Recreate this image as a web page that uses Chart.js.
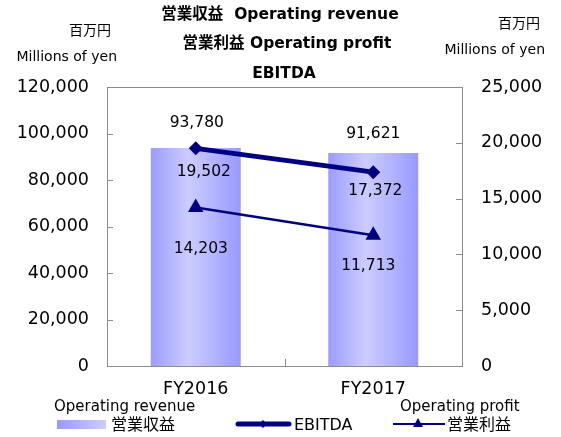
<!DOCTYPE html>
<html><head><meta charset="utf-8">
<script src="https://cdn.jsdelivr.net/npm/chart.js@4/dist/chart.umd.min.js"></script>
<style>html,body{margin:0;padding:0;background:#fff}#wrap{width:561px;height:437px}</style>
</head><body><div id="wrap"><canvas id="c" width="561" height="437"></canvas></div>
<script>
const categories = ['FY2016', 'FY2017'];
const revenue = [93780, 91621];
const ebitda = [19502, 17372];
const profit = [14203, 11713];
const leftTicks = [0, 20000, 40000, 60000, 80000, 100000, 120000];
const rightTicks = [0, 5000, 10000, 15000, 20000, 25000];
const titleLines = ['営業収益  Operating revenue', '営業利益 Operating profit', 'EBITDA'];

const FONT = '"DejaVu Sans", "Noto Sans CJK JP", sans-serif';
const NAVY = '#000080';
const fmt = v => v.toLocaleString('en-US');

// label offsets (style only)
const labelOffsets = [
  [[1, -25], [0, -19]],
  [[8, 24], [2, 19]],
  [[5, 41], [-5, 31]]
];

const BAR_FRAC = 0.507;

function barGradient(c) {
  const chart = c.chart;
  const xs = chart.scales.x;
  if (!chart.chartArea || !xs) return '#a5a5ff';
  const cx = xs.getPixelForValue(c.dataIndex);
  const w = xs.width / categories.length * BAR_FRAC;
  const g = chart.ctx.createLinearGradient(cx - w / 2, 0, cx + w / 2, 0);
  g.addColorStop(0, '#9c9cff');
  g.addColorStop(0.42, '#ccccff');
  g.addColorStop(1, '#9999ff');
  return g;
}

const deco = {
  id: 'deco',
  beforeDraw(chart) {
    const ctx = chart.ctx;
    ctx.save();
    ctx.fillStyle = '#fff';
    ctx.fillRect(0, 0, chart.width, chart.height);
    ctx.restore();
  },
  afterDatasetsDraw(chart) {
    const ctx = chart.ctx;
    const a = chart.chartArea;
    const yl = chart.scales.y, yr = chart.scales.y1, xs = chart.scales.x;
    ctx.save();
    // frame
    ctx.strokeStyle = '#8c8c8c';
    ctx.lineWidth = 1;
    ctx.strokeRect(Math.round(a.left) + 0.5, Math.round(a.top) + 0.5, Math.round(a.right - a.left), Math.round(a.bottom - a.top));
    // ticks
    ctx.beginPath();
    leftTicks.forEach(v => { const y = Math.round(yl.getPixelForValue(v)) + 0.5; ctx.moveTo(a.left, y); ctx.lineTo(a.left + 6, y); });
    rightTicks.forEach(v => { const y = Math.round(yr.getPixelForValue(v)) + 0.5; ctx.moveTo(a.right, y); ctx.lineTo(a.right - 6, y); });
    const mid = Math.round((xs.getPixelForValue(0) + xs.getPixelForValue(1)) / 2) + 0.5;
    ctx.moveTo(mid, a.bottom); ctx.lineTo(mid, a.bottom - 7);
    ctx.stroke();

    // data labels
    ctx.fillStyle = '#000';
    ctx.font = '15.5px ' + FONT;
    ctx.textAlign = 'center';
    ctx.textBaseline = 'middle';
    chart.data.datasets.forEach((ds, di) => {
      const meta = chart.getDatasetMeta(di);
      meta.data.forEach((el, i) => {
        const o = labelOffsets[di][i];
        ctx.fillText(fmt(ds.data[i]), el.x + o[0], el.y + o[1]);
      });
    });

    // title
    ctx.font = 'bold 15.5px ' + FONT;
    ctx.fillStyle = '#000';
    ctx.fillText(titleLines[0], 280, 15);
    ctx.fillText(titleLines[1], 287, 44);
    ctx.fillText(titleLines[2], 284, 74);

    // axis unit titles
    ctx.font = '14px ' + FONT;
    ctx.textAlign = 'right';
    ctx.fillText('百万円', 111, 31);
    ctx.fillText('Millions of yen', 117, 57);
    ctx.fillText('百万円', 540, 24);
    ctx.fillText('Millions of yen', 545, 50);

    // legend
    ctx.textAlign = 'left';
    ctx.font = '15px ' + FONT;
    ctx.fillText('Operating revenue', 54, 407);
    ctx.fillText('Operating profit', 400, 407);
    const sg = ctx.createLinearGradient(57, 0, 106, 0);
    sg.addColorStop(0, '#9999ff');
    sg.addColorStop(1, '#ccccff');
    ctx.fillStyle = sg;
    ctx.fillRect(57, 420, 49, 9);
    ctx.fillStyle = '#000';
    ctx.font = '16px ' + FONT;
    ctx.fillText('営業収益', 111, 426);
    ctx.fillText('EBITDA', 294, 426);
    ctx.fillText('営業利益', 447, 426);
    // EBITDA legend line
    ctx.strokeStyle = NAVY; ctx.fillStyle = NAVY;
    ctx.lineCap = 'round';
    ctx.lineWidth = 5;
    ctx.beginPath(); ctx.moveTo(238, 424); ctx.lineTo(289, 424); ctx.stroke();
    ctx.beginPath(); ctx.moveTo(263, 420); ctx.lineTo(267, 424); ctx.lineTo(263, 428); ctx.lineTo(259, 424); ctx.closePath(); ctx.fill();
    // profit legend line
    ctx.lineCap = 'butt';
    ctx.lineWidth = 2;
    ctx.beginPath(); ctx.moveTo(393, 424); ctx.lineTo(445, 424); ctx.stroke();
    ctx.beginPath(); ctx.moveTo(418, 418); ctx.lineTo(423, 427); ctx.lineTo(413, 427); ctx.closePath(); ctx.fill();
    ctx.restore();
  }
};

new Chart(document.getElementById('c'), {
  data: {
    labels: categories,
    datasets: [
      { type: 'bar', label: '営業収益', data: revenue, yAxisID: 'y', order: 3,
        backgroundColor: barGradient, borderWidth: 0,
        barPercentage: 1, categoryPercentage: BAR_FRAC },
      { type: 'line', label: 'EBITDA', data: ebitda, yAxisID: 'y1', order: 1,
        borderColor: NAVY, backgroundColor: NAVY, borderWidth: 5,
        pointStyle: 'rectRot', pointRadius: 7, pointBorderWidth: 0 },
      { type: 'line', label: '営業利益', data: profit, yAxisID: 'y1', order: 2,
        borderColor: NAVY, backgroundColor: NAVY, borderWidth: 2.5,
        pointStyle: 'triangle', pointRadius: 9, pointBorderWidth: 0 }
    ]
  },
  options: {
    responsive: false,
    animation: false,
    events: [],
    layout: { padding: { top: 87, left: 0, right: 0, bottom: 0 } },
    plugins: { legend: { display: false }, title: { display: false }, tooltip: { enabled: false } },
    scales: {
      x: {
        offset: true,
        grid: { display: false, drawTicks: false },
        border: { display: false },
        ticks: { color: '#000', font: { family: FONT, size: 17.5 }, padding: 13, maxRotation: 0 },
        afterFit(s) { s.height = 71; }
      },
      y: {
        position: 'left', min: 0, max: 120000,
        afterBuildTicks(s) { s.ticks = leftTicks.map(v => ({ value: v })); },
        grid: { display: false, drawTicks: false },
        border: { display: false },
        ticks: { color: '#000', font: { family: FONT, size: 17.5 }, padding: 18, callback: v => fmt(v) },
        afterFit(s) { s.width = 107; }
      },
      y1: {
        position: 'right', min: 0, max: 25000,
        afterBuildTicks(s) { s.ticks = rightTicks.map(v => ({ value: v })); },
        grid: { display: false, drawTicks: false },
        border: { display: false },
        ticks: { color: '#000', font: { family: FONT, size: 17.5 }, padding: 19, callback: v => fmt(v) },
        afterFit(s) { s.width = 99; }
      }
    }
  },
  plugins: [deco]
});
</script>
</body></html>
